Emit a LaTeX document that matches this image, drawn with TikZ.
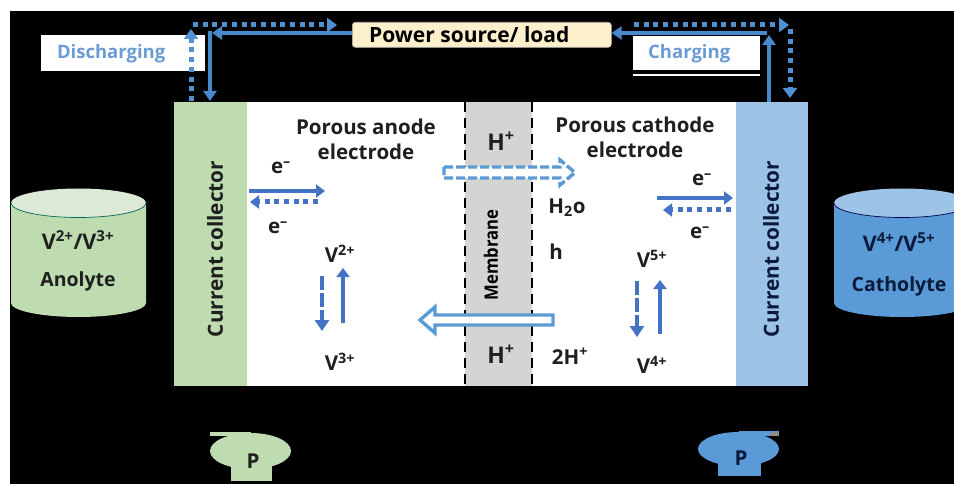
\documentclass[tikz,border=0pt]{standalone}
\usepackage{fontspec}
\setmainfont{Open Sans}
\usetikzlibrary{arrows.meta,calc}
\definecolor{flowblue}{HTML}{4A88CC}
\definecolor{dotblue}{HTML}{4F90D0}
\definecolor{skyblue}{HTML}{5B9BD5}
\definecolor{royal}{HTML}{4472C4}
\definecolor{greenbody}{HTML}{BEDCB0}
\definecolor{greentop}{HTML}{DCE9D4}
\definecolor{bluebody}{HTML}{5A9AD6}
\definecolor{bluetop}{HTML}{9DC3E6}
\definecolor{collblue}{HTML}{9CC3E6}
\definecolor{navytext}{HTML}{0A1A3A}
\definecolor{labelblue}{HTML}{6A9BD4}
\definecolor{srcfill}{HTML}{FCEFCB}
\newcommand{\sy}[1]{\textsuperscript{#1}}
\tikzset{
  x=1pt,y=-1pt,
  lbl/.style={font=\bfseries\fontsize{20.5}{24}\selectfont,align=center,inner sep=0pt,text=black!88},
  smalllbl/.style={font=\bfseries\fontsize{20.5}{24}\selectfont,align=center,inner sep=0pt,text=black!88},
  tanklbl/.style={font=\bfseries\fontsize{19.5}{24}\selectfont,align=center,inner sep=0pt},
  ionlbl/.style={font=\bfseries\fontsize{21.5}{24}\selectfont,align=center,inner sep=0pt},
  solidflow/.style={draw=flowblue,line width=3.6pt,-{Triangle[length=10pt,width=13pt]}},
  dotflow/.style={draw=dotblue,line width=5pt,dash pattern=on 5pt off 4.7pt,-{Triangle[length=10pt,width=14pt]}},
  redsolid/.style={draw=royal,line width=3.6pt,-{Triangle[length=9pt,width=13pt]}},
  reddash/.style={draw=royal,line width=4.6pt,dash pattern=on 14pt off 3pt,-{Triangle[length=11pt,width=14pt]}},
  reddot/.style={draw=royal,line width=5pt,dash pattern=on 5pt off 4.7pt,-{Triangle[length=9pt,width=13pt]}},
  collector/.style={inner sep=0pt,rotate=90,font=\bfseries\fontsize{20.8}{24}\selectfont},
}
\begin{document}
\begin{tikzpicture}
\useasboundingbox (0,0) rectangle (954,484);
\fill[white] (0,0) rectangle (954,484);
\fill[black] (10,11) rectangle (954,484);

% cell
\fill[white] (174,102) rectangle (808,386);
\fill[greenbody] (174,102) rectangle (247,386);
\fill[collblue] (736,102) rectangle (808,386);
\fill[black!17] (465,102) rectangle (532,386);
\draw[black,line width=2.4pt,dash pattern=on 10pt off 6pt] (532,102) -- (532,386);
\draw[black,line width=2.4pt,dash pattern=on 10pt off 6pt] (465,102) -- (465,386);

% label boxes
\node[fill=white,minimum width=164pt,minimum height=36pt,inner sep=0pt,anchor=north west,
  font=\bfseries\fontsize{18.5}{22}\selectfont,text=labelblue] (dis) at (41,35) {\hspace*{-24pt}Discharging};
\node[fill=white,minimum width=127pt,minimum height=34pt,inner sep=0pt,anchor=north west,
  font=\bfseries\fontsize{18.5}{22}\selectfont,text=labelblue] (chg) at (633,36) {\hspace*{-15pt}Charging};
\fill[white] (633,74.5) rectangle (760,76.5);
\node[draw=black!30,fill=srcfill,rounded corners=3pt,line width=.6pt,
  minimum width=259pt,minimum height=25pt,inner sep=0pt,anchor=north west,
  font=\bfseries\fontsize{21}{24}\selectfont] (src) at (352,22) {\hspace*{-25pt}Power source/ load};

% coordinates of the external circuit
\coordinate (lc) at (210,33);
\coordinate (lcb) at (210,101);
\coordinate (ld) at (191,101);
\coordinate (lda) at (191,29);
\coordinate (ldb) at (193,25);
\coordinate (ldc) at (337,25);
\coordinate (rc) at (769,102);
\coordinate (rca) at (769,35);
\coordinate (rcb) at (767,33);
\coordinate (rda) at (634,25);
\coordinate (rdb) at (789,25);
\coordinate (rdc) at (790,29);
\coordinate (rdd) at (790,98);

\draw[flowblue,line width=3.6pt,-{Triangle[length=10pt,width=13pt]}] (208,33) -- (lc) -- (lcb);
\draw[solidflow] (src.west|-lc) -- (212,33);
\draw[dotflow] (ld) -- (lda);
\draw[dotflow] (ldb) -- (ldc);
\draw[solidflow] (rc) -- (rca);
\draw[solidflow] (rcb) -- (src.east|-rcb);
\draw[dotflow] (rda) -- (rdb);
\draw[dotflow] (rdc) -- (rdd);

% tanks
\fill[greenbody] (11,203) -- (11,303) arc[start angle=180,end angle=360,x radius=67.5,y radius=-14] -- (146,203) -- cycle;
\fill[greentop] (78.5,203) ellipse[x radius=67.5,y radius=14.5];
\draw[black!60!green!30!cyan!50!black,line width=.7pt] (11,203) arc[start angle=180,end angle=360,x radius=67.5,y radius=-14.5];
\begin{scope}
\clip (0,0) rectangle (954,484);
\fill[bluebody] (834,203) -- (834,303) arc[start angle=180,end angle=360,x radius=68,y radius=-14] -- (970,203) -- cycle;
\fill[bluetop] (902,203) ellipse[x radius=68,y radius=14.5];
\draw[blue!30!black,line width=.7pt] (834,203) arc[start angle=180,end angle=360,x radius=68,y radius=-14.5];
\end{scope}

% pumps
\fill[greenbody] (250.5,451) ellipse[x radius=40.5,y radius=18];
\fill[greenbody] (231,462) rectangle (272,481);
\fill[greenbody] (210,432) rectangle (251,436);
\fill[bluebody] (738.5,449) ellipse[x radius=40.5,y radius=17];
\fill[bluebody] (718,458) rectangle (761,476);
\fill[bluebody] (739,431) rectangle (779,436);
\fill[black!45] (770,432) rectangle (779,436);

% text
\node[lbl] (pa) at (366,139) {Porous anode\\[1pt]electrode};
\node[lbl] (pc) at (635,137) {Porous cathode\\[1pt]electrode};
\node[collector,text=black!88] (ca) at (215,249) {Current collector};
\node[collector,text=navytext] (cc) at (771,249) {Current collector};
\node[collector,font=\bfseries\fontsize{18.5}{20}\selectfont] (mem) at (491,255) {\scalebox{.9}[1]{Membrane}};
\node[lbl,font=\bfseries\fontsize{23}{24}\selectfont] (h1) at (501,141) {H\sy{+}};
\node[lbl,font=\bfseries\fontsize{23}{24}\selectfont] (h2) at (501,354) {H\sy{+}};
\node[smalllbl] (w) at (567,208) {H\textsubscript{2}o};
\node[lbl] (hh) at (556,252) {h};
\node[smalllbl] (th) at (570,356) {2H\sy{+}};
\node[smalllbl] (e1) at (281,168) {e\sy{–}};
\node[smalllbl] (e2) at (278,228) {e\sy{–}};
\node[smalllbl] (e3) at (702,180) {e\sy{–}};
\node[smalllbl] (e4) at (700,233) {e\sy{–}};
\node[smalllbl] (v2) at (340,254) {V\sy{2+}};
\node[smalllbl] (v3) at (340,362) {V\sy{3+}};
\node[smalllbl] (v5) at (652,259) {V\sy{5+}};
\node[smalllbl] (v4) at (652,365) {V\sy{4+}};
\node[ionlbl,text=black!88] (t1) at (78,240) {V\sy{2+}/V\sy{3+}};
\node[tanklbl,text=black!88] (t2) at (78,281) {Anolyte};
\node[ionlbl,text=navytext] (t3) at (899,242) {V\sy{4+}/V\sy{5+}};
\node[tanklbl,text=navytext] (t4) at (899,286) {Catholyte};
\node[smalllbl] (p1) at (253,461) {P};
\node[smalllbl,text=navytext] (p2) at (741,458) {P};

% electrode arrows
\coordinate (a1) at (249,191); \coordinate (a2) at (325,191);
\coordinate (a3) at (318,202); \coordinate (a4) at (250,202);
\coordinate (a5) at (657,198); \coordinate (a6) at (733,198);
\coordinate (a7) at (731,210); \coordinate (a8) at (663,210);
\draw[redsolid] (a1) -- (a2);
\draw[reddot] (a3) -- (a4);
\draw[redsolid] (a5) -- (a6);
\draw[reddot] (a7) -- (a8);
\coordinate (b1) at (322,276); \coordinate (b2) at (322,331);
\coordinate (b3) at (343,323); \coordinate (b4) at (343,268);
\coordinate (b5) at (637,281); \coordinate (b6) at (637,337);
\coordinate (b7) at (660,334); \coordinate (b8) at (660,280);
\draw[reddash] (b1) -- (b2);
\draw[redsolid] (b3) -- (b4);
\draw[reddash] (b5) -- (b6);
\draw[redsolid] (b7) -- (b8);

% hollow arrows
\filldraw[fill=white,draw=skyblue,line width=3.4pt,line join=miter]
  (553,315) -- (435,315) -- (435,307) -- (420,320) -- (435,333) -- (435,325) -- (553,325) -- cycle;
\filldraw[fill=white,draw=skyblue,line width=3.4pt,line join=miter,dash pattern=on 9pt off 3pt]
  (444,167) -- (560,167) -- (560,160) -- (575,172.5) -- (560,185) -- (560,178) -- (444,178) -- cycle;
\end{tikzpicture}
\end{document}
